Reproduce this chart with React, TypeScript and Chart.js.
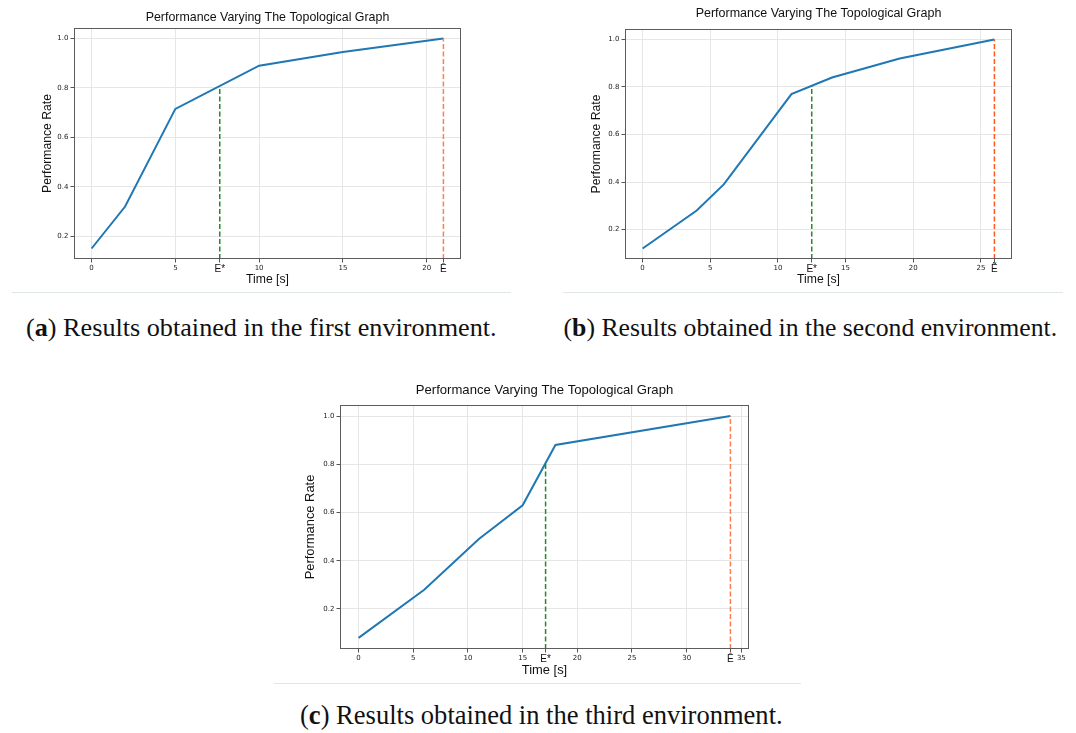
import React, { useEffect, useLayoutEffect, useRef } from "react";
import { Chart, registerables } from "chart.js";

Chart.register(...registerables);

// ---------- data ----------
const timeA = [0, 2, 5, 10, 15, 21];
const rateA = [0.15, 0.32, 0.715, 0.89, 0.945, 1.0];
const starTimeA = 7.65;
const starRateA = 0.805;
const endTimeA = 21;

const timeB = [0, 4, 6, 11, 14, 19, 26];
const rateB = [0.12, 0.28, 0.39, 0.77, 0.84, 0.92, 1.0];
const starTimeB = 12.5;
const starRateB = 0.805;
const endTimeB = 26;

const timeC = [0, 6, 11, 15, 18, 34];
const rateC = [0.08, 0.28, 0.49, 0.63, 0.88, 1.0];
const starTimeC = 17.1;
const starRateC = 0.805;
const endTimeC = 34;

const xTicksA = [0, 5, 10, 15, 20];
const xTicksB = [0, 5, 10, 15, 20, 25];
const xTicksC = [0, 5, 10, 15, 20, 25, 30, 35];
const yTicks = [0.2, 0.4, 0.6, 0.8, 1.0];

const starLabel = "E*";
const endLabels = ["\u0112", "\u1EBC", "\u0112"];
const chartTitle = "Performance Varying The Topological Graph";
const xTitle = "Time [s]";
const yTitle = "Performance Rate";
const captionLetters = ["a", "b", "c"];
const captionTexts = [
  "Results obtained in the first environment.",
  "Results obtained in the second environment.",
  "Results obtained in the third environment.",
];

type Spec = {
  canvas: { left: number; top: number; width: number; height: number };
  area: { left: number; top: number; right: number; bottom: number };
  times: number[];
  rates: number[];
  xTicks: number[];
  starTime: number;
  starRate: number;
  endTime: number;
  endLabel: string;
  endColor: string;
  titleY: number;
  xTitleY: number;
  yTitleX: number;
  titleSize: number;
  axisTitleSize: number;
  tickSize: number;
};

const specs: Spec[] = [
  {
    canvas: { left: 0, top: 0, width: 520, height: 292 },
    area: { left: 74, top: 28, right: 461, bottom: 259 },
    times: timeA, rates: rateA, xTicks: xTicksA,
    starTime: starTimeA, starRate: starRateA, endTime: endTimeA,
    endLabel: endLabels[0], endColor: "#ff7f50",
    titleY: 17.3, xTitleY: 280, yTitleX: 47.7,
    titleSize: 12.4, axisTitleSize: 12.2, tickSize: 7,
  },
  {
    canvas: { left: 540, top: 0, width: 536, height: 292 },
    area: { left: 625, top: 29, right: 1012, bottom: 259 },
    times: timeB, rates: rateB, xTicks: xTicksB,
    starTime: starTimeB, starRate: starRateB, endTime: endTimeB,
    endLabel: endLabels[1], endColor: "#ff5a1e",
    titleY: 14, xTitleY: 280, yTitleX: 596.5,
    titleSize: 12.5, axisTitleSize: 12.2, tickSize: 7,
  },
  {
    canvas: { left: 270, top: 370, width: 540, height: 320 },
    area: { left: 340, top: 405, right: 749, bottom: 649 },
    times: timeC, rates: rateC, xTicks: xTicksC,
    starTime: starTimeC, starRate: starRateC, endTime: endTimeC,
    endLabel: endLabels[2], endColor: "#ff7f50",
    titleY: 390, xTitleY: 670.7, yTitleX: 310,
    titleSize: 13.1, axisTitleSize: 12.9, tickSize: 7,
  },
];

const captionBoxes = [
  { left: 26, right: 497, baseline: 337 },
  { left: 563.5, right: 1057.5, baseline: 337 },
  { left: 300, right: 783, baseline: 724 },
];

const separators = [
  { left: 12, right: 511, y: 292 },
  { left: 563, right: 1063, y: 292 },
  { left: 274, right: 801, y: 683 },
];

const SANS = '"Liberation Sans", Arial, sans-serif';
const TICKFONT = '"DejaVu Sans", sans-serif';

function PerfChart({ spec }: { spec: Spec }) {
  const ref = useRef<HTMLCanvasElement>(null);
  useEffect(() => {
    const c = spec.canvas;
    const L = spec.area.left - c.left;
    const T = spec.area.top - c.top;
    const R = spec.area.right - c.left;
    const B = spec.area.bottom - c.top;
    const yAxisW = 30;
    const xAxisH = 24;
    const tMin = Math.min(...spec.times);
    const tMax = Math.max(...spec.times);
    const rMin = Math.min(...spec.rates);
    const rMax = Math.max(...spec.rates);
    const xMin = tMin - 0.05 * (tMax - tMin);
    const xMax = tMax + 0.05 * (tMax - tMin);
    const yMin = rMin - 0.05 * (rMax - rMin);
    const yMax = rMax + 0.05 * (rMax - rMin);
    const endRate = spec.rates[spec.rates.length - 1];
    const isStar = (v: any) => typeof v === "number" && Math.abs(v - spec.starTime) < 1e-6;
    const isEnd = (v: any) => typeof v === "number" && Math.abs(v - spec.endTime) < 1e-6;
    const special = (v: any) => isStar(v) || isEnd(v);
    const xTickValues = [...spec.xTicks, spec.starTime, spec.endTime].sort((a, b) => a - b);

    const decor = {
      id: "decor",
      afterDraw(chart: any) {
        const ctx = chart.ctx as CanvasRenderingContext2D;
        const a = chart.chartArea;
        ctx.save();
        ctx.strokeStyle = "#5c5c5c";
        ctx.lineWidth = 1;
        const l = Math.round(a.left) + 0.5;
        const t = Math.round(a.top) + 0.5;
        const r = Math.round(a.right) - 0.5;
        const b = Math.round(a.bottom) - 0.5;
        ctx.strokeRect(l, t, r - l, b - t);
        ctx.fillStyle = "#111";
        ctx.textAlign = "center";
        ctx.textBaseline = "middle";
        const cx = (a.left + a.right) / 2;
        ctx.font = `${spec.titleSize}px ${SANS}`;
        ctx.fillText(chartTitle, cx, spec.titleY - c.top);
        ctx.font = `${spec.axisTitleSize}px ${SANS}`;
        ctx.fillText(xTitle, cx, spec.xTitleY - c.top);
        ctx.translate(spec.yTitleX - c.left, (a.top + a.bottom) / 2);
        ctx.rotate(-Math.PI / 2);
        ctx.fillText(yTitle, 0, 0);
        ctx.restore();
      },
    };

    const chart = new Chart(ref.current as HTMLCanvasElement, {
      type: "line",
      data: {
        datasets: [
          {
            data: spec.times.map((t, i) => ({ x: t, y: spec.rates[i] })),
            borderColor: "#1f77b4",
            borderWidth: 2,
            pointRadius: 0,
            tension: 0,
            order: 2,
          },
          {
            data: [
              { x: spec.starTime, y: yMin },
              { x: spec.starTime, y: spec.starRate },
            ],
            borderColor: "#228b22",
            borderWidth: 1.5,
            borderDash: [5, 2.5],
            pointRadius: 0,
            order: 1,
          },
          {
            data: [
              { x: spec.endTime, y: yMin },
              { x: spec.endTime, y: endRate },
            ],
            borderColor: spec.endColor,
            borderWidth: 1.5,
            borderDash: [5, 2.5],
            pointRadius: 0,
            order: 1,
          },
        ],
      } as any,
      options: {
        animation: false,
        responsive: false,
        events: [],
        layout: {
          padding: {
            left: L - yAxisW,
            right: c.width - R,
            top: T,
            bottom: c.height - B - xAxisH,
          },
        },
        plugins: {
          legend: { display: false },
          tooltip: { enabled: false },
          title: { display: false },
        },
        scales: {
          x: {
            type: "linear",
            min: xMin,
            max: xMax,
            afterBuildTicks: (s: any) => {
              s.ticks = xTickValues.map((v) => ({ value: v }));
            },
            afterFit: (s: any) => {
              s.height = xAxisH;
            },
            border: { display: false },
            grid: {
              color: (ctx: any) => (special(ctx.tick?.value) ? "rgba(0,0,0,0)" : "#e6e6e6"),
              tickColor: "#555",
              tickLength: 3.5,
              lineWidth: 1,
            },
            ticks: {
              autoSkip: false,
              maxRotation: 0,
              minRotation: 0,
              padding: 1,
              callback: (v: any) => (isStar(v) ? starLabel : isEnd(v) ? spec.endLabel : String(v)),
              font: (ctx: any) =>
                special(ctx.tick?.value)
                  ? { family: SANS, size: 10 }
                  : { family: TICKFONT, size: spec.tickSize },
              color: (ctx: any) => (special(ctx.tick?.value) ? "#111" : "#222"),
            },
          },
          y: {
            type: "linear",
            min: yMin,
            max: yMax,
            afterBuildTicks: (s: any) => {
              s.ticks = yTicks.map((v) => ({ value: v }));
            },
            afterFit: (s: any) => {
              s.width = yAxisW;
            },
            border: { display: false },
            grid: { color: "#e6e6e6", tickColor: "#555", tickLength: 3.5, lineWidth: 1 },
            ticks: {
              padding: 2,
              callback: (v: any) => Number(v).toFixed(1),
              font: { family: TICKFONT, size: spec.tickSize },
              color: "#222",
            },
          },
        },
      } as any,
      plugins: [decor],
    });
    return () => chart.destroy();
  }, [spec]);

  const c = spec.canvas;
  return (
    <canvas
      ref={ref}
      width={c.width}
      height={c.height}
      style={{ position: "absolute", left: c.left, top: c.top, width: c.width, height: c.height }}
    />
  );
}

function Caption({ letter, text, box }: { letter: string; text: string; box: { left: number; right: number; baseline: number } }) {
  const ref = useRef<HTMLDivElement>(null);
  useLayoutEffect(() => {
    const el = ref.current;
    if (!el) return;
    const fit = () => {
      el.style.fontSize = "20px";
      const w = el.getBoundingClientRect().width;
      const f = (20 * (box.right - box.left)) / w;
      el.style.fontSize = f + "px";
      el.style.top = box.baseline - 0.8375 * f + "px";
    };
    fit();
    if ((document as any).fonts && (document as any).fonts.ready) {
      (document as any).fonts.ready.then(fit);
    }
  }, [box]);
  return (
    <div
      ref={ref}
      style={{
        position: "absolute",
        left: box.left,
        top: box.baseline - 18,
        whiteSpace: "nowrap",
        fontFamily: '"Liberation Serif", "Times New Roman", serif',
        lineHeight: 1,
        fontSize: 22,
        color: "#111",
      }}
    >
      (<b>{letter}</b>) {text}
    </div>
  );
}

export default function App() {
  return (
    <div
      style={{
        position: "absolute",
        left: 0,
        top: 0,
        width: 1076,
        height: 733,
        background: "#fff",
        overflow: "hidden",
      }}
    >
      {separators.map((s, i) => (
        <div
          key={"sep" + i}
          style={{
            position: "absolute",
            left: s.left,
            top: s.y,
            width: s.right - s.left,
            height: 1,
            background: "#e0e6e2",
          }}
        />
      ))}
      {specs.map((s, i) => (
        <PerfChart key={"c" + i} spec={s} />
      ))}
      {captionTexts.map((t, i) => (
        <Caption key={"cap" + i} letter={captionLetters[i]} text={t} box={captionBoxes[i]} />
      ))}
    </div>
  );
}
